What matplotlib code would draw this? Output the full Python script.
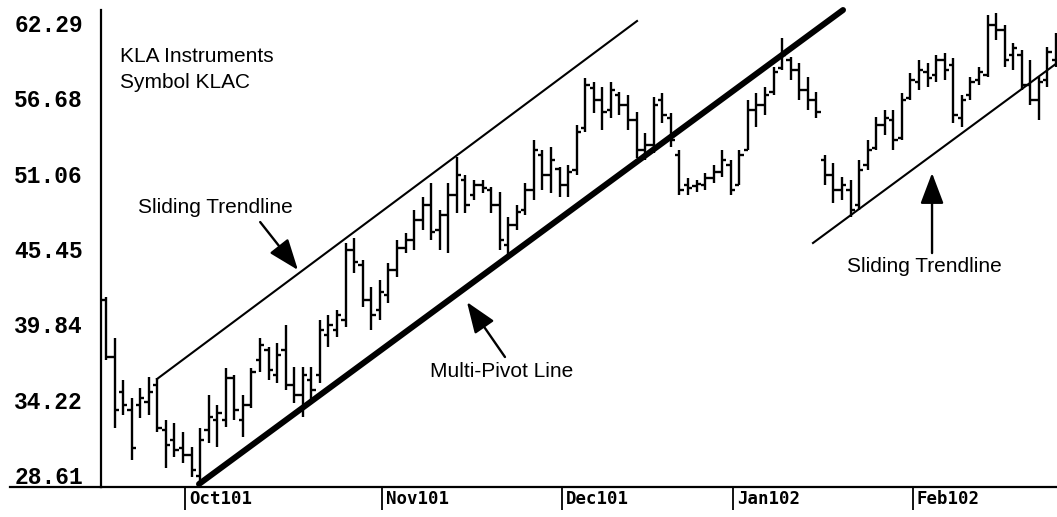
import matplotlib
matplotlib.use("Agg")
import matplotlib.pyplot as plt
import numpy as np
from matplotlib.transforms import blended_transform_factory

# KLA Instruments (KLAC) daily bars, one entry per session from 17 Sep 2001
highs = [41.87, 38.81, 35.69, 34.34, 35.09, 35.91, 35.83, 32.71, 32.48, 31.81,
         30.70, 32.11, 34.57, 33.82, 36.58, 36.06, 34.57, 36.58, 38.81, 38.14,
         38.44, 39.78, 36.65, 36.65, 36.65, 40.15, 40.53, 40.90, 45.89, 46.26,
         44.62, 42.61, 43.13, 44.40, 46.11, 46.63, 48.34, 49.31, 50.35, 48.34,
         50.35, 52.29, 50.95, 50.58, 50.58, 50.06, 49.68, 47.82, 48.72, 50.35,
         53.56, 52.81, 53.03, 51.55, 51.69, 54.67, 58.17, 57.87, 57.50, 57.87,
         57.13, 56.91, 55.64, 54.08, 56.76, 57.06, 55.57, 52.81, 50.73, 50.58,
         51.10, 51.69, 52.81, 52.07, 52.81, 56.53, 57.06, 57.50, 58.99, 61.15,
         59.74, 59.29, 58.25, 57.13, 52.44, 51.84, 50.80, 50.58, 52.07, 53.56,
         55.27, 55.79, 55.79, 57.06, 58.54, 59.51, 59.29, 59.88, 60.03, 59.66,
         56.91, 58.25, 58.99, 62.86, 63.01, 62.12, 60.78, 60.26, 59.51, 58.25,
         60.48, 61.52]
lows = [37.17, 32.11, 33.08, 29.73, 32.86, 33.08, 31.81, 29.13, 29.95, 29.51,
        28.46, 28.09, 30.99, 30.70, 32.19, 32.71, 31.44, 33.60, 36.28, 35.69,
        35.46, 34.94, 33.97, 32.93, 34.20, 35.46, 38.14, 38.89, 39.63, 43.65,
        41.12, 39.41, 40.15, 41.42, 43.35, 45.14, 45.36, 46.85, 46.11, 45.36,
        45.14, 48.12, 48.12, 49.09, 49.61, 48.12, 45.36, 44.77, 46.85, 47.97,
        49.09, 49.83, 49.61, 49.31, 49.31, 50.95, 54.15, 55.57, 54.30, 55.19,
        55.42, 54.30, 52.22, 52.07, 52.59, 54.82, 53.03, 49.46, 49.46, 49.68,
        49.83, 50.35, 50.80, 49.46, 50.20, 52.81, 54.52, 55.42, 56.91, 58.77,
        58.02, 56.53, 55.79, 55.19, 50.20, 48.86, 49.09, 47.82, 48.34, 51.32,
        52.81, 53.93, 52.81, 53.56, 56.53, 57.28, 57.50, 57.87, 58.02, 54.82,
        54.52, 56.53, 57.65, 58.25, 61.00, 58.99, 58.77, 57.28, 56.16, 55.04,
        57.50, 58.99]
opens = [41.64, 37.40, 34.79, 33.45, 33.82, 34.05, 35.31, 31.96, 31.22, 30.62,
         30.10, 28.54, 31.96, 32.71, 32.71, 35.83, 32.71, 33.82, 37.17, 37.92,
         36.06, 37.92, 35.31, 34.57, 35.69, 36.06, 39.04, 39.41, 40.15, 45.36,
         44.25, 41.64, 40.90, 42.01, 43.88, 45.51, 46.11, 47.60, 48.72, 46.85,
         47.97, 49.46, 50.58, 49.46, 50.20, 49.83, 48.72, 45.74, 47.23, 48.34,
         49.83, 52.44, 50.95, 51.40, 50.20, 51.32, 54.45, 57.43, 56.53, 55.79,
         56.91, 56.16, 55.04, 52.81, 53.18, 56.53, 55.19, 52.44, 50.20, 50.13,
         50.20, 50.73, 51.17, 51.69, 50.20, 52.81, 55.79, 56.16, 57.13, 58.92,
         59.51, 58.77, 57.28, 56.53, 52.07, 50.95, 49.83, 49.83, 48.72, 51.69,
         52.96, 54.67, 55.04, 53.70, 56.68, 57.87, 58.62, 58.40, 59.51, 59.14,
         55.19, 56.91, 58.02, 58.40, 62.12, 61.74, 59.88, 59.88, 57.65, 56.53,
         58.02, 59.51]
closes = [37.40, 33.45, 33.82, 30.62, 34.34, 34.79, 32.11, 30.85, 30.47, 30.10,
          28.98, 31.22, 32.93, 33.23, 35.83, 33.45, 33.82, 36.28, 38.29, 36.43,
          37.55, 35.31, 34.57, 36.06, 34.94, 39.41, 39.78, 40.53, 45.36, 44.47,
          41.64, 40.53, 42.24, 43.88, 45.51, 46.11, 47.60, 48.72, 46.71, 47.97,
          49.46, 50.95, 48.72, 50.20, 49.98, 48.72, 46.11, 47.23, 48.19, 49.83,
          52.81, 50.95, 52.07, 50.20, 51.17, 54.15, 57.65, 56.53, 55.64, 57.28,
          56.16, 55.04, 52.81, 53.18, 56.16, 55.42, 53.56, 49.83, 49.98, 50.28,
          50.73, 51.17, 52.07, 49.83, 52.44, 55.79, 56.16, 56.91, 58.62, 59.88,
          58.77, 57.28, 56.53, 55.64, 50.95, 49.83, 50.20, 48.34, 51.32, 52.81,
          54.67, 55.19, 53.56, 56.53, 58.02, 58.77, 58.17, 59.51, 58.77, 55.42,
          56.53, 57.87, 58.62, 62.12, 61.74, 59.51, 60.41, 57.65, 56.53, 57.87,
          60.10, 61.00]

# First session of each month (bar index) and its label
month_start = [10, 33, 54, 74, 95]
month_labels = ["Oct101", "Nov101", "Dec101", "Jan102", "Feb102"]

# Price scale labels
price_ticks = [28.61, 34.22, 39.84, 45.45, 51.06, 56.68, 62.29]

# Trendlines: (bar index, price) end points
pivot_x, pivot_y = [10.87, 86.12], [27.94, 63.24]
upper_x, upper_y = [5.96, 62.05], [35.76, 62.42]
lower_x, lower_y = [82.61, 111.12], [45.89, 59.29]

fig = plt.figure(figsize=(10.57, 5.17), dpi=100)
ax = fig.add_axes([101 / 1057, 30 / 517, 956 / 1057, 477 / 517])

idx = np.arange(len(highs))
bar_kw = dict(color="black", lw=1.7)
ax.vlines(idx, lows, highs, **bar_kw)
ax.hlines(opens, idx - 0.5, idx, **bar_kw)
ax.hlines(closes, idx, idx + 0.5, **bar_kw)

ax.plot(pivot_x, pivot_y, color="black", lw=4.3, solid_capstyle="round", clip_on=False)
ax.plot(upper_x, upper_y, color="black", lw=1.5)
ax.plot(lower_x, lower_y, color="black", lw=1.5)

ax.set_xlim(-0.58, 111.12)
ax.set_ylim(27.72, 63.24)

for side in ("top", "right"):
    ax.spines[side].set_visible(False)
for side in ("left", "bottom"):
    ax.spines[side].set_linewidth(1.6)
    ax.spines[side].set_color("black")

# axis rule continues under the price labels
ax.plot([-0.095, 0], [0, 0], transform=ax.transAxes, color="black", lw=1.6, clip_on=False)

ax.set_yticks(price_ticks)
ax.set_yticklabels([f"{p:.2f}" for p in price_ticks],
                   fontfamily="Liberation Mono", fontweight="bold", fontsize=16.5)
ax.tick_params(axis="y", length=0, pad=13)

tick_pos = [m - 0.75 for m in month_start]
ax.set_xticks(tick_pos)
ax.set_xticklabels([])
ax.tick_params(axis="x", direction="out", length=16.6, width=1.3, color="black")
trans = blended_transform_factory(ax.transData, ax.transAxes)
for pos, lab in zip(tick_pos, month_labels):
    ax.text(pos + 0.45, -0.006, lab, transform=trans, ha="left", va="top",
            fontfamily="DejaVu Sans Mono", fontweight="bold", fontsize=12.5)

txt = dict(fontfamily="Liberation Sans", fontsize=15, color="black", va="baseline", ha="left")
ax.text(1.64, 59.36, "KLA Instruments", **txt)
ax.text(1.64, 57.43, "Symbol KLAC", **txt)
ax.text(3.74, 48.12, "Sliding Trendline", **txt)
ax.text(37.86, 35.91, "Multi-Pivot Line", **txt)
ax.text(86.59, 43.73, "Sliding Trendline", **txt)

arrow = dict(arrowstyle="-|>,head_length=0.95,head_width=0.36", mutation_scale=20,
             lw=1.7, color="black", shrinkA=0, shrinkB=0)
ax.annotate("", xy=(22.43, 43.88), xytext=(18.02, 47.45), arrowprops=arrow)
ax.annotate("", xy=(42.18, 41.49), xytext=(46.62, 37.40), arrowprops=arrow)
ax.annotate("", xy=(96.52, 51.10), xytext=(96.52, 45.14), arrowprops=arrow)

fig.savefig("out.png", dpi=100, facecolor="white")
